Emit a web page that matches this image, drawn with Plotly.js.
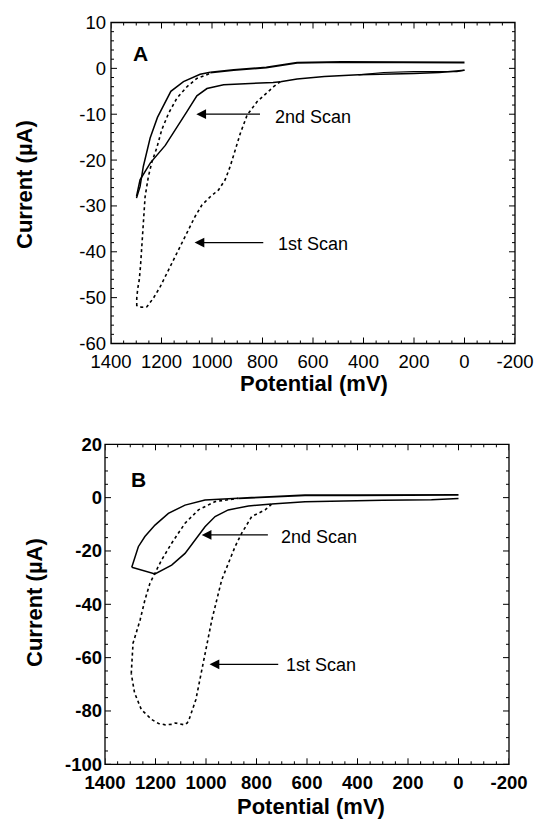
<!DOCTYPE html>
<html><head><meta charset="utf-8">
<script src="https://cdn.plot.ly/plotly-3.0.1.min.js"></script>
<style>html,body{margin:0;padding:0;background:#fff}</style>
</head><body>
<div id="chart" style="width:535px;height:819px"></div>
<script>
// ---------- Panel A (potential mV, current uA) ----------
const aBase1E = [0, 100, 201, 320, 420, 555, 663, 729];
const aBase1I = [-0.4, -0.9, -1.1, -1.2, -1.4, -1.8, -2.3, -2.9];
const aBase2E = [0, 30, 201, 320, 420];
const aBase2I = [-0.4, -0.7, -0.7, -0.9, -1.4];
const a1FwdE = [729, 756, 822, 861, 888, 908, 928, 948, 974, 1007, 1040, 1067, 1106, 1139, 1172, 1205, 1232, 1258, 1278, 1298];
const a1FwdI = [-2.9, -4.0, -7.3, -10.2, -14.2, -17.8, -21.4, -24.3, -26.5, -28.0, -29.8, -32.3, -36.7, -40.3, -44.0, -47.6, -50.1, -52.0, -52.1, -51.8];
const a1RevE = [1298, 1298, 1294, 1288, 1283, 1278, 1274, 1270, 1265, 1252, 1238, 1219, 1199, 1172, 1139, 1099, 1060, 1007];
const a1RevI = [-51.8, -50.1, -48.0, -46.1, -43.0, -38.9, -35.5, -32.0, -28.0, -23.6, -20.4, -17.4, -13.4, -9.8, -6.5, -4.0, -2.2, -1.1];
const a2FwdE = [729, 758, 848, 954, 1020, 1060, 1100, 1140, 1185, 1244, 1285, 1299];
const a2FwdI = [-2.9, -3.1, -3.3, -3.6, -4.4, -6.0, -9.5, -13.0, -16.8, -20.6, -24.3, -27.9];
const a2RevE = [1299, 1285, 1272, 1245, 1216, 1192, 1163, 1113, 1047, 1007];
const a2RevI = [-28.3, -25.8, -21.4, -15.2, -10.7, -8.0, -5.0, -2.9, -1.3, -0.86];
const aTopE = [1007, 914, 785, 729, 663, 487, 352, 149, 0];
const aTopI = [-0.9, -0.36, 0.2, 0.7, 1.2, 1.4, 1.4, 1.3, 1.3];

// ---------- Panel B ----------
const bBaseE = [0, 107, 300, 472, 608, 740];
const bBaseI = [-0.3, -0.8, -1.0, -1.3, -1.5, -2.4];
const b1FwdE = [740, 766, 819, 859, 885, 912, 938, 964, 977, 992, 1012, 1040, 1067, 1074, 1087, 1101, 1121, 1134, 1161, 1188, 1215, 1256, 1283, 1296];
const b1FwdI = [-2.4, -4.6, -7.1, -13.4, -18.4, -24.6, -30.9, -40.9, -45.9, -53.0, -62.0, -75.7, -83.2, -84.5, -85.2, -84.9, -84.5, -85.0, -85.2, -84.7, -83.2, -79.5, -73.2, -66.0];
const b1RevE = [1296, 1293, 1289, 1261, 1242, 1222, 1202, 1176, 1136, 1083, 1030, 964, 872];
const b1RevI = [-66.0, -59.6, -54.6, -45.9, -38.4, -32.1, -28.4, -23.4, -17.1, -9.6, -4.6, -1.5, -0.25];
const b2FwdE = [740, 832, 912, 964, 1004, 1044, 1083, 1136, 1202, 1294];
const b2FwdI = [-2.4, -3.1, -4.6, -7.1, -10.9, -15.9, -20.9, -25.3, -28.6, -26.1];
const b2RevE = [1294, 1281, 1268, 1242, 1202, 1149, 1083, 1004, 898, 872];
const b2RevI = [-26.1, -22.1, -18.4, -14.6, -10.3, -5.9, -2.8, -0.9, -0.25, -0.25];
const bTopE = [872, 740, 608, 400, 200, 0];
const bTopI = [-0.25, 0.35, 0.9, 0.9, 0.9, 1.0];

// ---------- Tick labels ----------
const xTickVals = [1400, 1200, 1000, 800, 600, 400, 200, 0, -200];
const xTickText = ["1400", "1200", "1000", "800", "600", "400", "200", "0", "-200"];
const aYTickVals = [10, 0, -10, -20, -30, -40, -50, -60];
const aYTickText = ["10", "0", "-10", "-20", "-30", "-40", "-50", "-60"];
const bYTickVals = [20, 0, -20, -40, -60, -80, -100];
const bYTickText = ["20", "0", "-20", "-40", "-60", "-80", "-100"];

const FONT = "Liberation Sans, Arial, Helvetica, sans-serif";
const W = 535, H = 819;
const domA = {x: [111 / W, 515 / W], y: [1 - 343.5 / H, 1 - 22.5 / H]};
const domB = {x: [105 / W, 509 / W], y: [1 - 764.3 / H, 1 - 444.3 / H]};

function seg(x, y, xa, ya, dash, w) {
  return {x: x, y: y, xaxis: xa, yaxis: ya, type: 'scatter', mode: 'lines',
          line: {color: '#000', width: w || 1.5, dash: dash || 'solid'},
          hoverinfo: 'skip', showlegend: false};
}

const traces = [
  seg(aBase1E, aBase1I, 'x', 'y'),
  seg(aBase2E, aBase2I, 'x', 'y', 'solid', 1.2),
  seg(a1FwdE, a1FwdI, 'x', 'y', 'dot', 1.6),
  seg(a1RevE, a1RevI, 'x', 'y', 'dot', 1.6),
  seg(a2FwdE, a2FwdI, 'x', 'y', 'solid', 1.5),
  seg(a2RevE, a2RevI, 'x', 'y', 'solid', 1.5),
  seg(aTopE, aTopI, 'x', 'y', 'solid', 2),
  seg(bBaseE, bBaseI, 'x2', 'y2', 'solid', 1.5),
  seg(b1FwdE, b1FwdI, 'x2', 'y2', 'dot', 1.6),
  seg(b1RevE, b1RevI, 'x2', 'y2', 'dot', 1.6),
  seg(b2FwdE, b2FwdI, 'x2', 'y2', 'solid', 1.5),
  seg(b2RevE, b2RevI, 'x2', 'y2', 'solid', 1.5),
  seg(bTopE, bTopI, 'x2', 'y2', 'solid', 1.8)
];

function boldList(arr, bold) { return bold ? arr.map(function (s) { return '<b>' + s + '</b>'; }) : arr; }
function xAx(domain, anchor, bold) {
  return {domain: domain, anchor: anchor, range: [1400, -200],
    tickmode: 'array', tickvals: xTickVals, ticktext: boldList(xTickText, bold),
    ticks: 'inside', ticklen: 6, tickcolor: 'rgba(0,0,0,0)', ticklabelstandoff: 5,
    showline: false, showgrid: false, zeroline: false,
    tickfont: {family: FONT, size: 18.5, color: '#000'}};
}
function yAx(domain, anchor, range, vals, text, bold, so) {
  return {domain: domain, anchor: anchor, range: range,
    tickmode: 'array', tickvals: vals, ticktext: boldList(text, bold),
    ticks: 'inside', ticklen: 6, tickcolor: 'rgba(0,0,0,0)', ticklabelstandoff: so,
    showline: false, showgrid: false, zeroline: false,
    tickfont: {family: FONT, size: 18.5, color: '#000'}};
}

// frame and inside ticks (mirrored on all four sides), placed through the axes' own scales
const LINE = {color: '#000', width: 1};
function frameShapes(xa, ya, dom, xr, yr, yMajor, yMinor) {
  const out = [];
  const wpx = (dom.x[1] - dom.x[0]) * W, hpx = (dom.y[1] - dom.y[0]) * H;
  out.push({type: 'rect', xref: xa + ' domain', yref: ya + ' domain', x0: 0, x1: 1, y0: 0, y1: 1,
            line: {color: '#000', width: 1.3}, fillcolor: 'rgba(0,0,0,0)', layer: 'above'});
  function xt(v, len) {
    const f = len / hpx;
    out.push({type: 'line', xref: xa, yref: ya + ' domain', x0: v, x1: v, y0: 0, y1: f, line: LINE, layer: 'above'});
    out.push({type: 'line', xref: xa, yref: ya + ' domain', x0: v, x1: v, y0: 1, y1: 1 - f, line: LINE, layer: 'above'});
  }
  function yt(v, len) {
    const f = len / wpx;
    out.push({type: 'line', xref: xa + ' domain', yref: ya, x0: 0, x1: f, y0: v, y1: v, line: LINE, layer: 'above'});
    out.push({type: 'line', xref: xa + ' domain', yref: ya, x0: 1, x1: 1 - f, y0: v, y1: v, line: LINE, layer: 'above'});
  }
  for (let v = xr[0]; v <= xr[1]; v += 50) xt(v, v % 200 === 0 ? 6 : 3);
  for (let v = yr[0]; v <= yr[1]; v += yMinor) yt(v, v % yMajor === 0 ? 6 : 3);
  return out;
}
const shapes = [].concat(
  frameShapes('x', 'y', domA, [-200, 1400], [-60, 10], 10, 2),
  frameShapes('x2', 'y2', domB, [-200, 1400], [-100, 20], 20, 5)
);

const txt = {family: FONT, size: 18, color: '#000'};
const ttl = {family: FONT, size: 22, color: '#000'};
const lbl = {family: FONT, size: 21, color: '#000'};

function pText(x, y, text, font, angle) {
  const a = {xref: 'paper', yref: 'paper', x: x, y: y, xanchor: 'center', yanchor: 'middle',
             text: '<b>' + text + '</b>', showarrow: false, font: font};
  if (angle) a.textangle = angle;
  return a;
}
function arrow(xr, yr, x, ax, y) {
  return {xref: xr, yref: yr, axref: xr, ayref: yr, x: x, y: y, ax: ax, ay: y, text: '',
          showarrow: true, arrowhead: 2, arrowsize: 1.5, arrowwidth: 1.3, arrowcolor: '#000'};
}
function dText(xr, yr, x, y, text) {
  return {xref: xr, yref: yr, x: x, y: y, xanchor: 'left', yanchor: 'middle', text: text, showarrow: false, font: txt};
}

const annotations = [
  pText(140 / W, 1 - 54 / H, 'A', lbl),
  pText(138 / W, 1 - 479 / H, 'B', lbl),
  pText(314 / W, 1 - 383 / H, 'Potential (mV)', ttl),
  pText(25 / W, 1 - 185 / H, 'Current (µA)', ttl, -90),
  pText(311 / W, 1 - 806 / H, 'Potential (mV)', ttl),
  pText(34 / W, 1 - 603 / H, 'Current (µA)', ttl, -90),
  arrow('x', 'y', 1062, 804, -10.0),
  dText('x', 'y', 757, -10.6, '2nd Scan'),
  arrow('x', 'y', 1069, 791, -38.0),
  dText('x', 'y', 745, -38.3, '1st Scan'),
  arrow('x2', 'y2', 1017, 749, -14.0),
  dText('x2', 'y2', 712, -14.6, '2nd Scan'),
  arrow('x2', 'y2', 986, 708, -62.5),
  dText('x2', 'y2', 691, -62.8, '1st Scan')
];

const layout = {
  width: W, height: H,
  margin: {l: 0, r: 0, t: 0, b: 0, pad: 0},
  paper_bgcolor: '#ffffff', plot_bgcolor: '#ffffff',
  showlegend: false,
  xaxis: xAx(domA.x, 'y', false),
  yaxis: yAx(domA.y, 'x', [-60, 10], aYTickVals, aYTickText, false, 4),
  xaxis2: xAx(domB.x, 'y2', true),
  yaxis2: yAx(domB.y, 'x2', [-100, 20], bYTickVals, bYTickText, true, 2),
  shapes: shapes,
  annotations: annotations
};

Plotly.newPlot('chart', traces, layout, {displayModeBar: false});
</script>
</body></html>
